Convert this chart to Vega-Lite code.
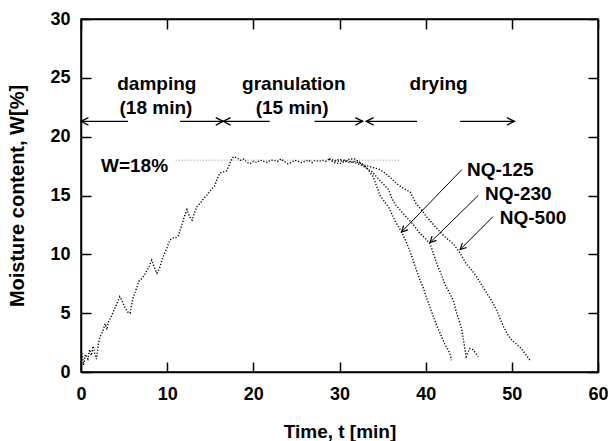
{
  "$schema": "https://vega.github.io/schema/vega-lite/v6.json",
  "width": 517,
  "height": 353,
  "autosize": {"type": "none"},
  "padding": {"left": 81, "top": 19, "right": 10, "bottom": 69},
  "background": "white",
  "config": {
    "view": {"stroke": "black", "strokeWidth": 1.5},
    "font": "Liberation Sans",
    "axis": {
      "grid": false,
      "domainColor": "black",
      "domainWidth": 1.5,
      "tickColor": "black",
      "tickWidth": 1.5,
      "tickSize": -10,
      "labelColor": "black",
      "labelFont": "Liberation Sans",
      "labelFontSize": 18,
      "labelFontWeight": "bold",
      "titleColor": "black",
      "titleFont": "Liberation Sans",
      "titleFontWeight": "bold"
    }
  },
  "datasets": {
    "curves": [
      {"series": "common", "t": 0.1, "w": 1.6},
      {"series": "common", "t": 0.3, "w": 0.6},
      {"series": "common", "t": 0.5, "w": 1.5},
      {"series": "common", "t": 0.8, "w": 1.1},
      {"series": "common", "t": 1.0, "w": 1.9},
      {"series": "common", "t": 1.2, "w": 1.4},
      {"series": "common", "t": 1.4, "w": 2.2},
      {"series": "common", "t": 1.6, "w": 1.6},
      {"series": "common", "t": 1.8, "w": 1.1},
      {"series": "common", "t": 2.0, "w": 2.3},
      {"series": "common", "t": 2.2, "w": 3.0},
      {"series": "common", "t": 2.5, "w": 3.4},
      {"series": "common", "t": 2.8, "w": 4.1},
      {"series": "common", "t": 3.0, "w": 3.6},
      {"series": "common", "t": 3.2, "w": 4.3},
      {"series": "common", "t": 3.5, "w": 4.7},
      {"series": "common", "t": 3.8, "w": 5.2},
      {"series": "common", "t": 4.1, "w": 5.7},
      {"series": "common", "t": 4.5, "w": 6.4},
      {"series": "common", "t": 4.8, "w": 6.0},
      {"series": "common", "t": 5.1, "w": 5.5},
      {"series": "common", "t": 5.4, "w": 5.1},
      {"series": "common", "t": 5.7, "w": 5.0},
      {"series": "common", "t": 6.0, "w": 6.2},
      {"series": "common", "t": 6.3, "w": 6.8},
      {"series": "common", "t": 6.7, "w": 7.7},
      {"series": "common", "t": 7.0, "w": 7.9},
      {"series": "common", "t": 7.4, "w": 8.3},
      {"series": "common", "t": 7.8, "w": 8.8},
      {"series": "common", "t": 8.2, "w": 9.5},
      {"series": "common", "t": 8.5, "w": 8.9},
      {"series": "common", "t": 8.8, "w": 8.4},
      {"series": "common", "t": 9.1, "w": 8.8},
      {"series": "common", "t": 9.4, "w": 9.5},
      {"series": "common", "t": 9.7, "w": 10.1},
      {"series": "common", "t": 10.0, "w": 10.6},
      {"series": "common", "t": 10.3, "w": 11.2},
      {"series": "common", "t": 10.7, "w": 11.4},
      {"series": "common", "t": 11.0, "w": 11.4},
      {"series": "common", "t": 11.3, "w": 11.6},
      {"series": "common", "t": 11.7, "w": 12.5},
      {"series": "common", "t": 12.0, "w": 13.2},
      {"series": "common", "t": 12.3, "w": 13.8},
      {"series": "common", "t": 12.6, "w": 13.2},
      {"series": "common", "t": 12.9, "w": 12.9},
      {"series": "common", "t": 13.2, "w": 13.6},
      {"series": "common", "t": 13.5, "w": 14.1},
      {"series": "common", "t": 13.9, "w": 14.4},
      {"series": "common", "t": 14.3, "w": 14.8},
      {"series": "common", "t": 14.7, "w": 15.1},
      {"series": "common", "t": 15.1, "w": 15.5},
      {"series": "common", "t": 15.5, "w": 15.8},
      {"series": "common", "t": 15.8, "w": 16.4},
      {"series": "common", "t": 16.1, "w": 16.9},
      {"series": "common", "t": 16.5, "w": 17.0},
      {"series": "common", "t": 16.9, "w": 17.1},
      {"series": "common", "t": 17.2, "w": 17.6},
      {"series": "common", "t": 17.5, "w": 18.1},
      {"series": "common", "t": 17.7, "w": 18.3},
      {"series": "common", "t": 18.1, "w": 18.2},
      {"series": "common", "t": 18.5, "w": 18.0},
      {"series": "common", "t": 18.9, "w": 18.1},
      {"series": "common", "t": 19.3, "w": 17.8},
      {"series": "common", "t": 19.6, "w": 17.7},
      {"series": "common", "t": 20.0, "w": 17.9},
      {"series": "common", "t": 20.4, "w": 17.8},
      {"series": "common", "t": 20.8, "w": 18.0},
      {"series": "common", "t": 21.2, "w": 17.9},
      {"series": "common", "t": 21.6, "w": 17.8},
      {"series": "common", "t": 22.0, "w": 18.0},
      {"series": "common", "t": 22.4, "w": 18.0},
      {"series": "common", "t": 22.8, "w": 17.9},
      {"series": "common", "t": 23.2, "w": 18.1},
      {"series": "common", "t": 23.6, "w": 17.9},
      {"series": "common", "t": 24.0, "w": 17.7},
      {"series": "common", "t": 24.4, "w": 17.8},
      {"series": "common", "t": 24.8, "w": 18.0},
      {"series": "common", "t": 25.2, "w": 17.9},
      {"series": "common", "t": 25.6, "w": 17.8},
      {"series": "common", "t": 26.0, "w": 17.9},
      {"series": "common", "t": 26.4, "w": 18.0},
      {"series": "common", "t": 26.8, "w": 17.8},
      {"series": "common", "t": 27.2, "w": 18.0},
      {"series": "common", "t": 27.6, "w": 17.9},
      {"series": "common", "t": 28.0, "w": 18.0},
      {"series": "common", "t": 28.4, "w": 17.9},
      {"series": "common", "t": 28.8, "w": 18.1},
      {"series": "NQ-125", "t": 28.8, "w": 18.1},
      {"series": "NQ-125", "t": 29.4, "w": 17.8},
      {"series": "NQ-125", "t": 30.0, "w": 17.7},
      {"series": "NQ-125", "t": 30.6, "w": 17.9},
      {"series": "NQ-125", "t": 31.2, "w": 17.8},
      {"series": "NQ-125", "t": 31.8, "w": 17.9},
      {"series": "NQ-125", "t": 32.5, "w": 17.7},
      {"series": "NQ-125", "t": 33.1, "w": 17.4},
      {"series": "NQ-125", "t": 33.5, "w": 17.0},
      {"series": "NQ-125", "t": 33.9, "w": 16.6},
      {"series": "NQ-125", "t": 34.3, "w": 15.8},
      {"series": "NQ-125", "t": 34.7, "w": 15.0},
      {"series": "NQ-125", "t": 35.2, "w": 14.5},
      {"series": "NQ-125", "t": 35.7, "w": 14.0},
      {"series": "NQ-125", "t": 36.1, "w": 13.4},
      {"series": "NQ-125", "t": 36.4, "w": 12.9},
      {"series": "NQ-125", "t": 36.8, "w": 12.4},
      {"series": "NQ-125", "t": 37.2, "w": 11.9},
      {"series": "NQ-125", "t": 37.6, "w": 11.3},
      {"series": "NQ-125", "t": 38.0, "w": 10.6},
      {"series": "NQ-125", "t": 38.5, "w": 9.6},
      {"series": "NQ-125", "t": 38.9, "w": 8.7},
      {"series": "NQ-125", "t": 39.3, "w": 7.9},
      {"series": "NQ-125", "t": 39.7, "w": 7.2},
      {"series": "NQ-125", "t": 40.1, "w": 6.3},
      {"series": "NQ-125", "t": 40.5, "w": 5.5},
      {"series": "NQ-125", "t": 40.9, "w": 4.7},
      {"series": "NQ-125", "t": 41.3, "w": 3.9},
      {"series": "NQ-125", "t": 41.8, "w": 3.1},
      {"series": "NQ-125", "t": 42.2, "w": 2.4},
      {"series": "NQ-125", "t": 42.5, "w": 2.0},
      {"series": "NQ-125", "t": 42.8, "w": 1.6},
      {"series": "NQ-125", "t": 43.0, "w": 1.0},
      {"series": "NQ-230", "t": 28.8, "w": 18.1},
      {"series": "NQ-230", "t": 29.4, "w": 18.0},
      {"series": "NQ-230", "t": 30.0, "w": 17.9},
      {"series": "NQ-230", "t": 30.6, "w": 18.0},
      {"series": "NQ-230", "t": 31.2, "w": 17.9},
      {"series": "NQ-230", "t": 31.8, "w": 17.8},
      {"series": "NQ-230", "t": 32.5, "w": 17.6},
      {"series": "NQ-230", "t": 33.2, "w": 17.3},
      {"series": "NQ-230", "t": 33.8, "w": 17.0},
      {"series": "NQ-230", "t": 34.3, "w": 16.6},
      {"series": "NQ-230", "t": 34.8, "w": 16.2},
      {"series": "NQ-230", "t": 35.3, "w": 15.8},
      {"series": "NQ-230", "t": 35.7, "w": 15.5},
      {"series": "NQ-230", "t": 36.0, "w": 14.9},
      {"series": "NQ-230", "t": 36.4, "w": 14.3},
      {"series": "NQ-230", "t": 37.0, "w": 13.8},
      {"series": "NQ-230", "t": 37.6, "w": 13.3},
      {"series": "NQ-230", "t": 38.1, "w": 12.9},
      {"series": "NQ-230", "t": 38.6, "w": 12.5},
      {"series": "NQ-230", "t": 39.0, "w": 12.1},
      {"series": "NQ-230", "t": 39.3, "w": 11.8},
      {"series": "NQ-230", "t": 39.9, "w": 11.4},
      {"series": "NQ-230", "t": 40.5, "w": 10.9},
      {"series": "NQ-230", "t": 40.9, "w": 10.1},
      {"series": "NQ-230", "t": 41.3, "w": 9.2},
      {"series": "NQ-230", "t": 41.8, "w": 8.3},
      {"series": "NQ-230", "t": 42.2, "w": 7.5},
      {"series": "NQ-230", "t": 42.7, "w": 6.8},
      {"series": "NQ-230", "t": 43.2, "w": 6.1},
      {"series": "NQ-230", "t": 43.6, "w": 5.0},
      {"series": "NQ-230", "t": 43.9, "w": 4.3},
      {"series": "NQ-230", "t": 44.2, "w": 3.6},
      {"series": "NQ-230", "t": 44.5, "w": 2.2},
      {"series": "NQ-230", "t": 44.7, "w": 1.3},
      {"series": "NQ-230", "t": 45.1, "w": 2.0},
      {"series": "NQ-230", "t": 45.5, "w": 1.9},
      {"series": "NQ-230", "t": 45.8, "w": 1.6},
      {"series": "NQ-230", "t": 46.1, "w": 1.3},
      {"series": "NQ-500", "t": 28.8, "w": 18.1},
      {"series": "NQ-500", "t": 29.4, "w": 17.9},
      {"series": "NQ-500", "t": 30.0, "w": 18.1},
      {"series": "NQ-500", "t": 30.6, "w": 17.9},
      {"series": "NQ-500", "t": 31.2, "w": 18.1},
      {"series": "NQ-500", "t": 31.8, "w": 18.1},
      {"series": "NQ-500", "t": 32.8, "w": 17.6},
      {"series": "NQ-500", "t": 33.8, "w": 17.4},
      {"series": "NQ-500", "t": 34.7, "w": 17.2},
      {"series": "NQ-500", "t": 35.3, "w": 16.9},
      {"series": "NQ-500", "t": 35.8, "w": 16.6},
      {"series": "NQ-500", "t": 36.5, "w": 16.1},
      {"series": "NQ-500", "t": 37.2, "w": 15.7},
      {"series": "NQ-500", "t": 38.2, "w": 15.3},
      {"series": "NQ-500", "t": 38.9, "w": 14.3},
      {"series": "NQ-500", "t": 39.5, "w": 13.8},
      {"series": "NQ-500", "t": 40.1, "w": 13.2},
      {"series": "NQ-500", "t": 40.7, "w": 12.7},
      {"series": "NQ-500", "t": 41.3, "w": 12.2},
      {"series": "NQ-500", "t": 42.2, "w": 11.5},
      {"series": "NQ-500", "t": 43.2, "w": 10.9},
      {"series": "NQ-500", "t": 44.0, "w": 10.1},
      {"series": "NQ-500", "t": 44.7, "w": 9.2},
      {"series": "NQ-500", "t": 45.3, "w": 8.7},
      {"series": "NQ-500", "t": 45.9, "w": 8.1},
      {"series": "NQ-500", "t": 46.5, "w": 7.4},
      {"series": "NQ-500", "t": 47.1, "w": 6.7},
      {"series": "NQ-500", "t": 47.7, "w": 6.0},
      {"series": "NQ-500", "t": 48.2, "w": 5.3},
      {"series": "NQ-500", "t": 48.6, "w": 4.6},
      {"series": "NQ-500", "t": 49.0, "w": 3.9},
      {"series": "NQ-500", "t": 49.5, "w": 3.2},
      {"series": "NQ-500", "t": 50.0, "w": 2.7},
      {"series": "NQ-500", "t": 50.5, "w": 2.4},
      {"series": "NQ-500", "t": 51.1, "w": 2.0},
      {"series": "NQ-500", "t": 51.6, "w": 1.5},
      {"series": "NQ-500", "t": 52.1, "w": 1.0}
    ],
    "ref": [{"t": 11.0, "t2": 37.0, "w": 18}],
    "wlabel": [{"text": "W=18%", "t": 10.1, "w": 17.5}],
    "phases": [
      {"from": 5.45, "to": 0, "w": 21.3},
      {"from": 11.5, "to": 16.5, "w": 21.3},
      {"from": 21.9, "to": 16.5, "w": 21.3},
      {"from": 27.1, "to": 32.7, "w": 21.3},
      {"from": 39.0, "to": 33.1, "w": 21.3},
      {"from": 44.0, "to": 50.3, "w": 21.3}
    ],
    "phaseLabels": [
      {"text": "damping", "t": 8.8, "w": 24.5},
      {"text": "(18 min)", "t": 8.7, "w": 22.4},
      {"text": "granulation", "t": 24.7, "w": 24.5},
      {"text": "(15 min)", "t": 24.5, "w": 22.4},
      {"text": "drying", "t": 41.5, "w": 24.5}
    ],
    "nq": [
      {"label": "NQ-125", "lt": 44.8, "lw": 17.2, "t": 44.2, "w": 17.2, "t2": 37.2, "w2": 11.9},
      {"label": "NQ-230", "lt": 46.9, "lw": 15.1, "t": 46.1, "w": 15.0, "t2": 40.5, "w2": 11.0},
      {"label": "NQ-500", "lt": 48.6, "lw": 13.1, "t": 47.8, "w": 13.2, "t2": 44.0, "w2": 10.4}
    ]
  },
  "resolve": {"axis": {"x": "independent", "y": "independent"}},
  "layer": [
    {
      "data": {"name": "curves"},
      "mark": {"type": "line", "color": "black", "strokeWidth": 1.4, "strokeDash": [1.2, 1.8]},
      "encoding": {
        "x": {
          "field": "t", "type": "quantitative",
          "scale": {"domain": [0, 60], "nice": false, "zero": false},
          "axis": {
            "orient": "bottom", "values": [0, 10, 20, 30, 40, 50, 60],
            "labelPadding": 23, "labelFlush": false,
            "title": "Time, t [min]", "titleFontSize": 19,
            "titleY": 65, "titleBaseline": "alphabetic"
          }
        },
        "y": {
          "field": "w", "type": "quantitative",
          "scale": {"domain": [0, 30], "nice": false, "zero": false},
          "axis": {
            "orient": "left", "values": [0, 5, 10, 15, 20, 25, 30],
            "labelPadding": 21, "labelFlush": false,
            "title": "Moisture content, W[%]", "titleFontSize": 20,
            "titleX": -58, "titleY": 176.5, "titleBaseline": "alphabetic", "titleAngle": -90
          }
        },
        "detail": {"field": "series"}
      }
    },
    {
      "data": {"name": "ref"},
      "mark": {"type": "rule", "color": "#777777", "strokeWidth": 0.8, "strokeDash": [1, 2]},
      "encoding": {
        "x": {
          "field": "t", "type": "quantitative",
          "scale": {"domain": [0, 60], "nice": false, "zero": false},
          "axis": {"orient": "top", "values": [0, 10, 20, 30, 40, 50, 60], "labels": false, "title": null}
        },
        "x2": {"field": "t2"},
        "y": {
          "field": "w", "type": "quantitative",
          "scale": {"domain": [0, 30], "nice": false, "zero": false},
          "axis": {"orient": "right", "values": [0, 5, 10, 15, 20, 25, 30], "labels": false, "title": null}
        }
      }
    },
    {
      "data": {"name": "wlabel"},
      "mark": {"type": "text", "align": "right", "baseline": "middle", "fontSize": 19, "fontWeight": "bold", "color": "black"},
      "encoding": {
        "x": {"field": "t", "type": "quantitative", "axis": null},
        "y": {"field": "w", "type": "quantitative", "axis": null},
        "text": {"field": "text"}
      }
    },
    {
      "data": {"name": "phases"},
      "mark": {"type": "rule", "color": "black", "strokeWidth": 1.3},
      "encoding": {
        "x": {"field": "from", "type": "quantitative", "axis": null},
        "x2": {"field": "to"},
        "y": {"field": "w", "type": "quantitative", "axis": null}
      }
    },
    {
      "data": {"name": "phases"},
      "transform": [{"filter": "datum.to > datum.from"}],
      "mark": {"type": "point", "shape": "M-1,-0.5L0,0L-1,0.5", "filled": false, "size": 220, "stroke": "black", "strokeWidth": 1.3, "opacity": 1},
      "encoding": {
        "x": {"field": "to", "type": "quantitative", "axis": null},
        "y": {"field": "w", "type": "quantitative", "axis": null}
      }
    },
    {
      "data": {"name": "phases"},
      "transform": [{"filter": "datum.to < datum.from"}],
      "mark": {"type": "point", "shape": "M1,-0.5L0,0L1,0.5", "filled": false, "size": 220, "stroke": "black", "strokeWidth": 1.3, "opacity": 1},
      "encoding": {
        "x": {"field": "to", "type": "quantitative", "axis": null},
        "y": {"field": "w", "type": "quantitative", "axis": null}
      }
    },
    {
      "data": {"name": "phaseLabels"},
      "mark": {"type": "text", "align": "center", "baseline": "middle", "fontSize": 19, "fontWeight": "bold", "color": "black"},
      "encoding": {
        "x": {"field": "t", "type": "quantitative", "axis": null},
        "y": {"field": "w", "type": "quantitative", "axis": null},
        "text": {"field": "text"}
      }
    },
    {
      "data": {"name": "nq"},
      "mark": {"type": "rule", "color": "black", "strokeWidth": 1},
      "encoding": {
        "x": {"field": "t", "type": "quantitative", "axis": null},
        "x2": {"field": "t2"},
        "y": {"field": "w", "type": "quantitative", "axis": null},
        "y2": {"field": "w2"}
      }
    },
    {
      "data": {"name": "nq"},
      "mark": {"type": "point", "shape": "M-1,-0.5L0,0L-1,0.5", "filled": false, "size": 150, "angle": 135, "stroke": "black", "strokeWidth": 1.2, "opacity": 1},
      "encoding": {
        "x": {"field": "t2", "type": "quantitative", "axis": null},
        "y": {"field": "w2", "type": "quantitative", "axis": null}
      }
    },
    {
      "data": {"name": "nq"},
      "mark": {"type": "text", "align": "left", "baseline": "middle", "fontSize": 19, "fontWeight": "bold", "color": "black"},
      "encoding": {
        "x": {"field": "lt", "type": "quantitative", "axis": null},
        "y": {"field": "lw", "type": "quantitative", "axis": null},
        "text": {"field": "label"}
      }
    }
  ]
}
